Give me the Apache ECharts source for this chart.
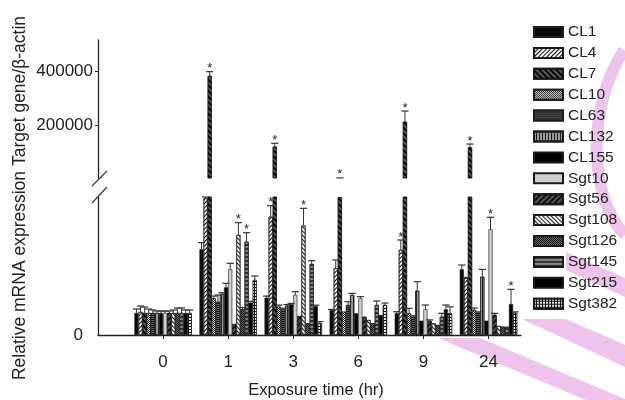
<!DOCTYPE html>
<html><head><meta charset="utf-8">
<script src="https://cdn.jsdelivr.net/npm/echarts@6/dist/echarts.min.js"></script>
<style>html,body{margin:0;padding:0;background:#fff}#chart{width:625px;height:400px}</style>
</head><body><div id="chart"></div>
<script>
// ---------- data ----------
const timeLabels = ['0', '1', '3', '6', '9', '24'];
const seriesNames = ['CL1','CL4','CL7','CL10','CL63','CL132','CL155','Sgt10','Sgt56','Sgt108','Sgt126','Sgt145','Sgt215','Sgt382'];
const lowerTicks = [0];
const upperTicks = [200000, 400000];

// means (lower axis segment 0-5000, upper segment 5000-515000)
const CL1    = [797, 3105, 1351, 906, 786, 2380];
const CL4    = [833, 4950, 4286, 2417, 3080, 2054];
const CL7    = [797, 382000, 120700, 4990, 213100, 118500];
const CL10   = [797, 1330, 1025, 844, 786, 906];
const CL63   = [797, 1207, 931, 1087, 663, 808];
const CL132  = [797, 1486, 1062, 1449, 1605, 2112];
const CL155  = [797, 1728, 1112, 786, 518, 518];
const Sgt10  = [797, 2380, 1449, 1330, 931, 3830];
const Sgt56  = [797, 399, 688, 663, 518, 725];
const Sgt108 = [797, 3623, 3960, 543, 424, 326];
const Sgt126 = [797, 931, 424, 424, 362, 301];
const Sgt145 = [797, 3380, 2572, 1087, 663, 301];
const Sgt215 = [797, 1170, 1051, 725, 931, 1123];
const Sgt382 = [797, 1993, 424, 1087, 786, 808];

// error bars (upper half only)
const CL1Err    = [145, 240, 60, 20, 58, 156];
const CL4Err    = [217, 50, 398, 301, 362, 30];
const CL7Err    = [217, 16000, 12500, 400, 39500, 12000];
const CL10Err   = [145, 80, 60, 0, 181, 72];
const CL63Err   = [109, 243, 40, 120, 30, 30];
const CL132Err  = [72, 47, 40, 60, 326, 265];
const CL155Err  = [72, 145, 30, 0, 0, 0];
const Sgt10Err  = [72, 217, 120, 58, 156, 435];
const Sgt56Err  = [72, 0, 0, 0, 30, 60];
const Sgt108Err = [109, 446, 630, 0, 0, 0];
const Sgt126Err = [181, 60, 0, 0, 0, 0];
const Sgt145Err = [181, 326, 120, 145, 123, 0];
const Sgt215Err = [109, 50, 30, 0, 156, 532];
const Sgt382Err = [109, 145, 58, 72, 235, 30];

// significance marks (*): [time, series]
const significant = [['1','CL7'],['1','Sgt108'],['1','Sgt145'],['3','CL4'],['3','CL7'],['3','Sgt108'],
                     ['6','CL7'],['9','CL4'],['9','CL7'],['24','CL7'],['24','Sgt10'],['24','Sgt215']];

const means = [CL1, CL4, CL7, CL10, CL63, CL132, CL155, Sgt10, Sgt56, Sgt108, Sgt126, Sgt145, Sgt215, Sgt382];
const errs  = [CL1Err, CL4Err, CL7Err, CL10Err, CL63Err, CL132Err, CL155Err, Sgt10Err, Sgt56Err, Sgt108Err, Sgt126Err, Sgt145Err, Sgt215Err, Sgt382Err];

// ---------- styling ----------
const FONT = '"Liberation Sans", Arial, Helvetica, sans-serif';
const TXT = '#222';
const BAR_W = 4.1;
const BREAK = 5000, UPPER_MAX = 515000;
const Q = Math.PI / 4;
const PINK = '#eec4ec';
function lines(color, rot, w, gap) {
  return { symbol: 'rect', symbolSize: 1, dashArrayX: [1, 0], dashArrayY: [w, gap], rotation: rot, color: color };
}
function checks(color) {
  return { symbol: 'rect', symbolSize: 1, dashArrayX: [[1, 1], [0, 1, 1, 0]], dashArrayY: [1, 0], rotation: 0, color: color };
}
function gridDecal(color) {
  return { symbol: 'rect', symbolSize: 1, dashArrayX: [2, 1], dashArrayY: [2, 1], rotation: 0, color: color };
}
const barStyles = [
  { color: '#0a0a0a' },
  { color: '#f4f4f4', decal: lines('#111', -Q, 1, 1.8) },
  { color: '#5a5a5a', decal: lines('#050505', Q, 1.4, 1.1) },
  { color: '#111111', decal: checks('#eeeeee') },
  { color: '#111111', decal: lines('#666', 0, 1, 1) },
  { color: '#999999', decal: lines('#222', Math.PI / 2, 1, 2) },
  { color: '#000000' },
  { color: '#cfcfcf' },
  { color: '#555555', decal: lines('#111', -Q, 1.2, 1.2) },
  { color: '#f4f4f4', decal: lines('#222', Q, 1, 1.5) },
  { color: '#111111', decal: checks('#707070') },
  { color: '#888888', decal: lines('#333', 0, 1.5, 2) },
  { color: '#000000' },
  { color: '#111111', decal: gridDecal('#e8e8e8') }
];

const N = seriesNames.length;
const sigSet = new Set(significant.map(p => p[0] + '|' + p[1]));

// ---------- series ----------
const series = [];
[0, 1].forEach(function (g) {
  seriesNames.forEach(function (name, s) {
    const st = barStyles[s];
    const itemStyle = { color: st.color, borderColor: '#1a1a1a', borderWidth: 0.6 };
    if (st.decal) itemStyle.decal = st.decal;
    series.push({
      type: 'bar', name: name, xAxisIndex: g, yAxisIndex: g,
      barWidth: BAR_W, barGap: '0%',
      itemStyle: itemStyle,
      data: means[s].map((v, c) => [c, v]),
      animation: false
    });
  });
});

const errData = [];
seriesNames.forEach(function (name, s) {
  means[s].forEach(function (v, c) {
    errData.push([c, v, errs[s][c], s, sigSet.has(timeLabels[c] + '|' + name) ? 1 : 0]);
  });
});

function makeErrRender(lo, hi) {
  return function (params, api) {
    const c = api.value(0), v = api.value(1), e = api.value(2), s = api.value(3), star = api.value(4);
    const cs = params.coordSys;
    const yMin = cs.y, yMax = cs.y + cs.height;
    const p0 = api.coord([c, v]), p1 = api.coord([c, v + e]);
    const x = p0[0] + (s - (N - 1) / 2) * BAR_W;
    const children = [];
    const a = Math.min(Math.max(p0[1], yMin), yMax);
    const b = Math.min(Math.max(p1[1], yMin), yMax);
    if (a - b > 0.3) {
      children.push({ type: 'line', shape: { x1: x, y1: a, x2: x, y2: b }, style: { stroke: '#333', lineWidth: 1 } });
    }
    const top = v + e;
    if (e > 0 && top > lo && top <= hi) {
      children.push({ type: 'line', shape: { x1: x - 3.6, y1: p1[1], x2: x + 3.6, y2: p1[1] }, style: { stroke: '#333', lineWidth: 1.2 } });
    }
    if (star && top > lo && top <= hi) {
      children.push({ type: 'text', style: { text: '*', x: x, y: p1[1] - 3, align: 'center', verticalAlign: 'middle', fontSize: 13, fontFamily: FONT, fill: '#222' } });
    }
    return { type: 'group', children: children };
  };
}
series.push({ type: 'custom', xAxisIndex: 0, yAxisIndex: 0, renderItem: makeErrRender(-1, BREAK), data: errData, z: 5, animation: false, silent: true });
series.push({ type: 'custom', xAxisIndex: 1, yAxisIndex: 1, renderItem: makeErrRender(BREAK, UPPER_MAX), data: errData, z: 5, animation: false, silent: true });

const catIdx = timeLabels.map((t, i) => i);

const option = {
  animation: false,
  backgroundColor: '#ffffff',
  legend: {
    data: seriesNames, orient: 'vertical', left: 533, top: 24, padding: 0,
    itemWidth: 29, itemHeight: 10, itemGap: 4.9, icon: 'rect', selectedMode: false,
    textStyle: { fontSize: 15.5, color: TXT, fontFamily: FONT }
  },
  grid: [
    { left: 98, right: 104, top: 197, height: 138 },
    { left: 98, right: 104, top: 40, height: 138 }
  ],
  xAxis: [
    {
      gridIndex: 0, type: 'value', min: -1, max: 5.5,
      axisLine: { show: true, onZero: false, lineStyle: { color: '#222', width: 1.3 } },
      axisTick: { show: true, customValues: catIdx, length: 4, lineStyle: { color: '#222' } },
      axisLabel: { customValues: catIdx, formatter: v => timeLabels[v], margin: 19, fontSize: 17, color: TXT, fontFamily: FONT },
      splitLine: { show: false }
    },
    { gridIndex: 1, type: 'value', min: -1, max: 5.5, show: false, splitLine: { show: false } }
  ],
  yAxis: [
    {
      gridIndex: 0, type: 'value', min: 0, max: BREAK,
      axisLine: { show: true, onZero: false, lineStyle: { color: '#222', width: 1.3 } },
      axisTick: { show: false },
      axisLabel: { customValues: lowerTicks, formatter: v => String(v), margin: 15, fontSize: 17, color: TXT, fontFamily: FONT },
      splitLine: { show: false }
    },
    {
      gridIndex: 1, type: 'value', min: BREAK, max: UPPER_MAX,
      axisLine: { show: true, onZero: false, lineStyle: { color: '#222', width: 1.3 } },
      axisTick: { show: true, customValues: upperTicks, length: 3, lineStyle: { color: '#222' } },
      axisLabel: { customValues: upperTicks, formatter: v => String(v), margin: 5, fontSize: 17, color: TXT, fontFamily: FONT },
      splitLine: { show: false }
    }
  ],
  graphic: [
    // pink watermark remnants
    { type: 'polygon', z: -10, shape: { points: [[438, 338], [480, 338], [625, 399], [625, 400], [586, 400]] }, style: { fill: PINK }, silent: true },
    { type: 'polygon', z: -10, shape: { points: [[522, 319], [566, 319], [625, 345], [625, 367]] }, style: { fill: PINK }, silent: true },
    { type: 'polygon', z: -10, shape: { points: [[566, 252], [625, 278], [625, 297], [566, 270]] }, style: { fill: PINK }, silent: true },
    { type: 'bezierCurve', z: -10, shape: { x1: 624, y1: 50, cpx1: 585, cpy1: 110, cpx2: 590, cpy2: 200, x2: 625, y2: 235 }, style: { stroke: PINK, lineWidth: 12, fill: null }, silent: true },
    // axis break marks
    { type: 'line', shape: { x1: 92, y1: 186, x2: 107, y2: 171 }, style: { stroke: '#333', lineWidth: 1.1 } },
    { type: 'line', shape: { x1: 92, y1: 203, x2: 107, y2: 187 }, style: { stroke: '#333', lineWidth: 1.1 } },
    // axis titles
    { type: 'text', x: 20, y: 198, rotation: Math.PI / 2,
      style: { text: 'Relative mRNA expression Target gene/\u03b2-actin', align: 'center', verticalAlign: 'middle', fontSize: 17.5, fontFamily: FONT, fill: TXT } },
    { type: 'text', x: 316, y: 390,
      style: { text: 'Exposure time (hr)', align: 'center', verticalAlign: 'middle', fontSize: 16.5, fontFamily: FONT, fill: TXT } }
  ],
  series: series
};

const chart = echarts.init(document.getElementById('chart'), null, { renderer: 'canvas' });
chart.setOption(option);
</script>
</body></html>
